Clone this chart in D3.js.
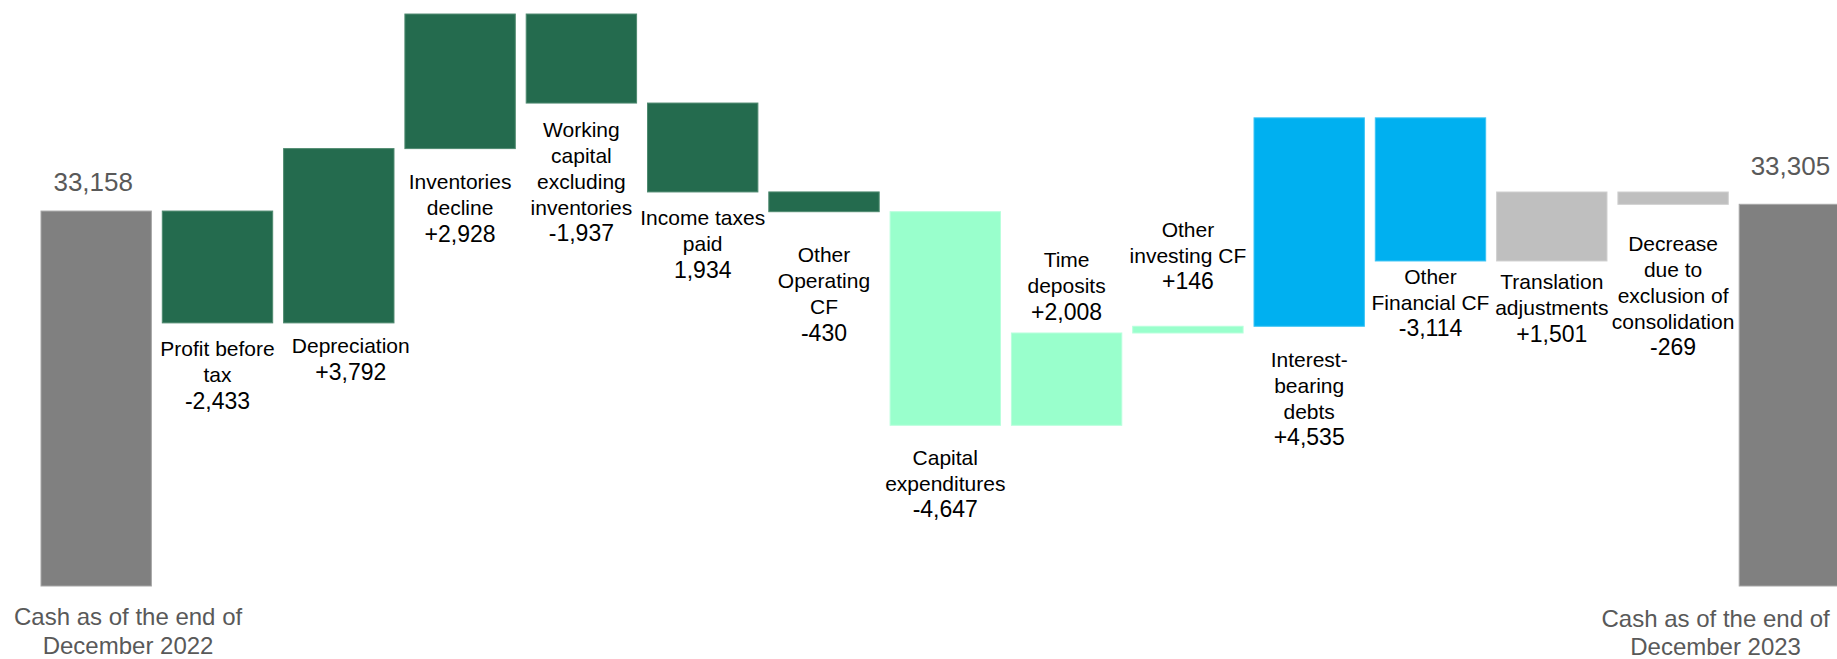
<!DOCTYPE html>
<html>
<head>
<meta charset="utf-8">
<script src="https://cdn.jsdelivr.net/npm/d3@7"></script>
<style>
  html, body { margin: 0; padding: 0; background: #ffffff; }
  svg { display: block; }
  text { font-family: "Liberation Sans", Arial, sans-serif; }
</style>
</head>
<body>
<svg id="chart" width="1837" height="659"></svg>
<script>
// ---------------- data ----------------
const categories = [
  "Cash as of the end of\nDecember 2022",
  "Profit before\ntax",
  "Depreciation",
  "Inventories\ndecline",
  "Working\ncapital\nexcluding\ninventories",
  "Income taxes\npaid",
  "Other\nOperating\nCF",
  "Capital\nexpenditures",
  "Time\ndeposits",
  "Other\ninvesting CF",
  "Interest-\nbearing\ndebts",
  "Other\nFinancial CF",
  "Translation\nadjustments",
  "Decrease\ndue to\nexclusion of\nconsolidation",
  "Cash as of the end of\nDecember 2023"
];
const values = [33158, -2433, 3792, 2928, -1937, -1934, -430, -4647, 2008, 146, 4535, -3114, 1501, -269, 33305];
const valueLabels = ["33,158", "-2,433", "+3,792", "+2,928", "-1,937", "1,934", "-430", "-4,647", "+2,008", "+146", "+4,535", "-3,114", "+1,501", "-269", "33,305"];
const kinds = ["total", "operating", "operating", "operating", "operating", "operating", "operating",
               "investing", "investing", "investing", "financial", "financial", "other", "other", "total"];
const axisMin = 25000;
const axisMax = 37500;

// ---------------- layout / style ----------------
const W = 1837, H = 659;
const colors = { total: "#808080", operating: "#246B4E", investing: "#99FFCC", financial: "#00B0F0", other: "#BFBFBF" };
const strokes = { total: "#a6a6a6", operating: "#4f8a70", investing: "#b8ffdc", financial: "#3cc4f4", other: "#d0d0d0" };
// label placement: side relative to bar and distance (px) from bar edge to nearest line centre
const labelSide = ["below", "below", "below", "below", "below", "below", "below", "below", "above", "above", "below", "below", "below", "below", "below"];
const labelGap  = [0, 26, 23, 33, 26, 26, 43, 32, 21, 45, 33, 15.5, 21, 39, 0];
const labelDx   = [0, 0, 12, 0, 0, 0, 0, 0, 0, 0, 0, 0, 0, 0, 0];
const totalValueGap = [29.5, 0, 0, 0, 0, 0, 0, 0, 0, 0, 0, 0, 0, 0, 38.5];
const totalValueDx  = [-3, 0, 0, 0, 0, 0, 0, 0, 0, 0, 0, 0, 0, 0, -4];
const totalLabelY = [616.5, 0, 0, 0, 0, 0, 0, 0, 0, 0, 0, 0, 0, 0, 618];
const linePitch = 26;

const svg = d3.select("#chart");

const step = 121.3, pInner = 0.09;
const x = d3.scaleBand()
  .domain(d3.range(categories.length))
  .range([41, 41 + step * (categories.length - pInner)])
  .paddingInner(pInner)
  .paddingOuter(0);

const y = d3.scaleLinear().domain([axisMin, axisMax]).range([586, 11.5]);

// compute waterfall extents
let running = 0;
const bars = values.map((v, i) => {
  let lo, hi;
  if (kinds[i] === "total") {
    lo = axisMin; hi = v; running = v;
  } else {
    const start = running, end = running + v;
    lo = Math.min(start, end); hi = Math.max(start, end);
    running = end;
  }
  return { i, v, lo, hi, kind: kinds[i], label: valueLabels[i], cat: categories[i] };
});

svg.append("g").selectAll("rect")
  .data(bars)
  .join("rect")
  .attr("x", d => x(d.i))
  .attr("width", x.bandwidth())
  .attr("y", d => y(d.hi))
  .attr("height", d => y(d.lo) - y(d.hi))
  .attr("fill", d => colors[d.kind])
  .attr("stroke", d => strokes[d.kind])
  .attr("stroke-width", 1);

const labels = svg.append("g");

bars.forEach(d => {
  const cx = x(d.i) + x.bandwidth() / 2;
  if (d.kind === "total") {
    labels.append("text")
      .attr("x", cx + totalValueDx[d.i])
      .attr("y", y(d.hi) - totalValueGap[d.i])
      .attr("text-anchor", "middle")
      .attr("dominant-baseline", "central")
      .attr("font-size", 26)
      .attr("fill", "#595959")
      .text(d.label);
    const lines = d.cat.split("\n");
    const t = labels.append("text")
      .attr("text-anchor", "middle")
      .attr("font-size", 24)
      .attr("fill", "#595959");
    lines.forEach((ln, k) => {
      t.append("tspan")
        .attr("x", cx)
        .attr("y", totalLabelY[d.i] + k * 28.5)
        .attr("dominant-baseline", "central")
        .text(ln);
    });
    // keep the label inside the canvas
    const bb = t.node().getBBox();
    let shift = 0;
    if (bb.x < 14) shift = 14 - bb.x;
    if (bb.x + bb.width > W - 7) shift = (W - 7) - (bb.x + bb.width);
    t.selectAll("tspan").attr("x", cx + shift);
  } else {
    const lines = d.cat.split("\n").map(s => ({ s, size: 21 }));
    lines.push({ s: d.label, size: 23 });
    const n = lines.length;
    let firstY;
    if (labelSide[d.i] === "below") {
      firstY = y(d.lo) + labelGap[d.i];
    } else {
      firstY = y(d.hi) - labelGap[d.i] - (n - 1) * linePitch;
    }
    const t = labels.append("text")
      .attr("text-anchor", "middle")
      .attr("fill", "#000000");
    lines.forEach((ln, k) => {
      t.append("tspan")
        .attr("x", cx + labelDx[d.i])
        .attr("y", firstY + k * linePitch)
        .attr("dominant-baseline", "central")
        .attr("font-size", ln.size)
        .text(ln.s);
    });
  }
});
</script>
</body>
</html>
